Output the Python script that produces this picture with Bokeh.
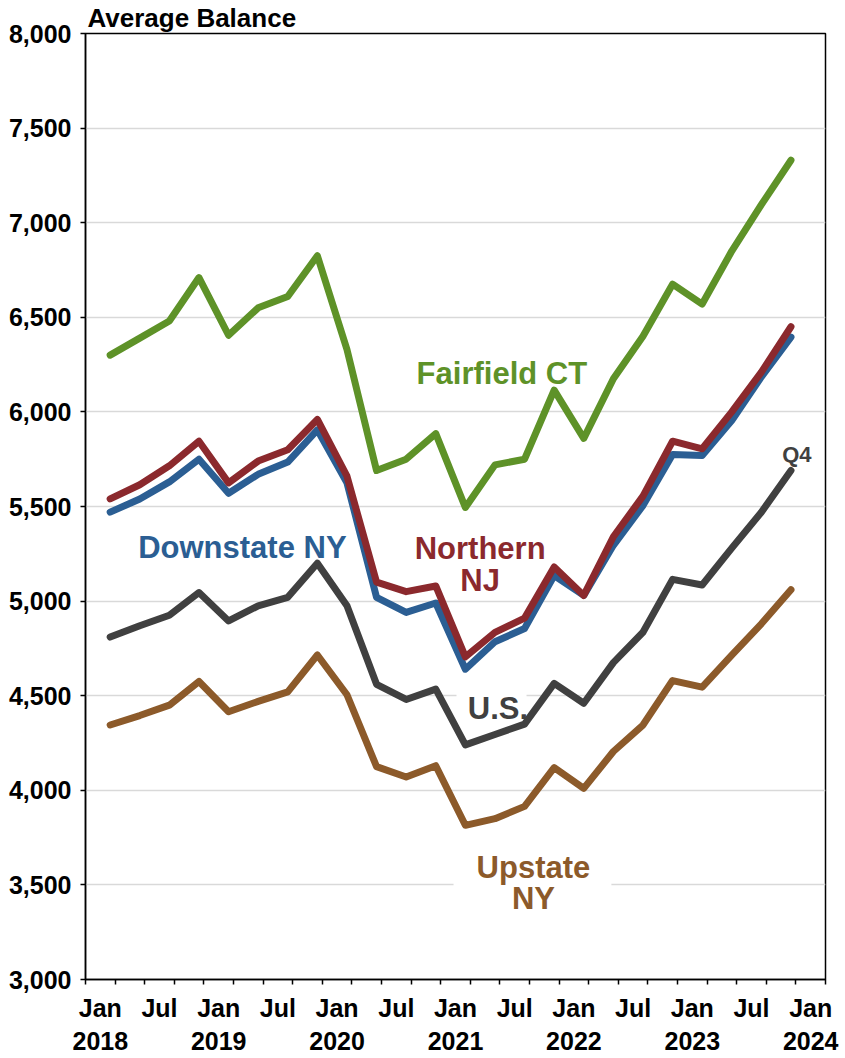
from bokeh.plotting import figure
from bokeh.models import FixedTicker, NumeralTickFormatter, Label, BoxAnnotation, Range1d
from bokeh.embed import file_html
from bokeh.resources import INLINE

# ---- data (quarterly, 2018Q1 .. 2023Q4) ----
years = [2018] * 4 + [2019] * 4 + [2020] * 4 + [2021] * 4 + [2022] * 4 + [2023] * 4
quarter_nums = [1, 2, 3, 4] * 6

fairfield = [6300, 6390, 6480, 6710, 6405, 6550, 6610, 6825, 6330, 5690, 5750, 5885,
             5495, 5720, 5750, 6115, 5860, 6175, 6400, 6675, 6570, 6850, 7095, 7330]
downstate = [5470, 5540, 5630, 5750, 5570, 5670, 5735, 5905, 5625, 5020, 4940, 4990,
             4640, 4785, 4855, 5135, 5030, 5295, 5505, 5775, 5770, 5955, 6185, 6395]
northern = [5540, 5615, 5715, 5845, 5625, 5740, 5800, 5960, 5660, 5100, 5050, 5080,
            4705, 4835, 4910, 5180, 5030, 5340, 5555, 5845, 5805, 6000, 6210, 6450]
us = [4810, 4870, 4925, 5045, 4895, 4975, 5020, 5200, 4975, 4560, 4480, 4535,
      4240, 4295, 4350, 4565, 4460, 4675, 4835, 5115, 5085, 5280, 5470, 5690]
upstate = [4345, 4395, 4450, 4575, 4415, 4470, 4520, 4715, 4505, 4125, 4070, 4130,
           3815, 3850, 3915, 4120, 4010, 4205, 4345, 4580, 4545, 4715, 4880, 5060]

tick_labels = ["Jan\n2018", "Jul", "Jan\n2019", "Jul", "Jan\n2020", "Jul", "Jan\n2021",
               "Jul", "Jan\n2022", "Jul", "Jan\n2023", "Jul", "Jan\n2024"]
y_ticks = [3000, 3500, 4000, 4500, 5000, 5500, 6000, 6500, 7000, 7500, 8000]

# x in months since Jan 2018; each quarter's point sits in the middle of its last month
x = [(yr - 2018) * 12 + q * 3 - 0.5 for yr, q in zip(years, quarter_nums)]
label_pos = [1.5 + 6 * i for i in range(len(tick_labels))]
minor_pos = [3 * i for i in range(26)]

FONT = "Liberation Sans"
GREEN = "#5E9228"
BLUE = "#2B5E93"
RED = "#8B292D"
GREY = "#404040"
BROWN = "#8C5A2A"

p = figure(width=845, height=1058, output_backend="svg", toolbar_location=None,
           x_range=Range1d(0, 75), y_range=Range1d(3000, 8000),
           title="Average Balance",
           min_border_left=85, min_border_right=20, min_border_top=0, min_border_bottom=77)
p.background_fill_color = "white"
p.border_fill_color = "white"
p.outline_line_color = "black"
p.outline_line_width = 1.5

p.title.text_font = FONT
p.title.text_font_style = "bold"
p.title.text_font_size = "26px"
p.title.text_color = "black"
p.title.align = "left"
p.title.offset = 2
p.title.standoff = 1

# axes
xa = p.xaxis[0]
xa.ticker = FixedTicker(ticks=label_pos, minor_ticks=minor_pos)
xa.major_label_overrides = {pos: lab for pos, lab in zip(label_pos, tick_labels)}
xa.major_tick_in = 0
xa.major_tick_out = 0
xa.minor_tick_in = 0
xa.minor_tick_out = 5
xa.minor_tick_line_color = "black"
xa.minor_tick_line_width = 1.5
xa.axis_line_color = "black"
xa.axis_line_width = 1.5
xa.major_label_text_font = FONT
xa.major_label_text_font_style = "bold"
xa.major_label_text_font_size = "25px"
xa.major_label_text_color = "black"
xa.major_label_standoff = 9

ya = p.yaxis[0]
ya.ticker = FixedTicker(ticks=y_ticks)
ya.formatter = NumeralTickFormatter(format="0,0")
ya.major_tick_in = 0
ya.major_tick_out = 5
ya.major_tick_line_color = "black"
ya.major_tick_line_width = 1.5
ya.minor_tick_line_color = None
ya.axis_line_color = "black"
ya.axis_line_width = 1.5
ya.major_label_text_font = FONT
ya.major_label_text_font_style = "bold"
ya.major_label_text_font_size = "25px"
ya.major_label_text_color = "black"
ya.major_label_standoff = 9

p.xgrid.grid_line_color = None
p.ygrid.ticker = FixedTicker(ticks=y_ticks)
p.ygrid.grid_line_color = "#D9D9D9"
p.ygrid.grid_line_width = 1.5

# white patches behind the U.S. and Upstate NY labels (hide the gridlines)
p.add_layout(BoxAnnotation(left=37.6, right=44.7, bottom=4430, top=4555,
                           fill_color="white", fill_alpha=1.0, line_color=None, level="underlay"))
p.add_layout(BoxAnnotation(left=37.3, right=53.3, bottom=3420, top=3720,
                           fill_color="white", fill_alpha=1.0, line_color=None, level="underlay"))

# series
for ys, col in [(fairfield, GREEN), (downstate, BLUE), (northern, RED), (us, GREY), (upstate, BROWN)]:
    p.line(x, ys, line_width=7, line_color=col, line_cap="round", line_join="round")


def lab(xv, yv, text, color, size="31px"):
    p.add_layout(Label(x=xv, y=yv, text=text, text_color=color, text_font=FONT,
                       text_font_style="bold", text_font_size=size, text_align="center",
                       text_baseline="alphabetic"))


lab(42.2, 6205, "Fairfield CT", GREEN)
lab(15.9, 5281, "Downstate NY", BLUE)
lab(40.0, 5276, "Northern", RED)
lab(40.0, 5107, "NJ", RED)
lab(41.8, 4431, "U.S.", GREY)
lab(45.4, 3591, "Upstate", BROWN)
lab(45.4, 3428, "NY", BROWN)
lab(72.1, 5777, "Q4", GREY, size="22px")

open("out.html", "w").write(file_html(p, INLINE))
